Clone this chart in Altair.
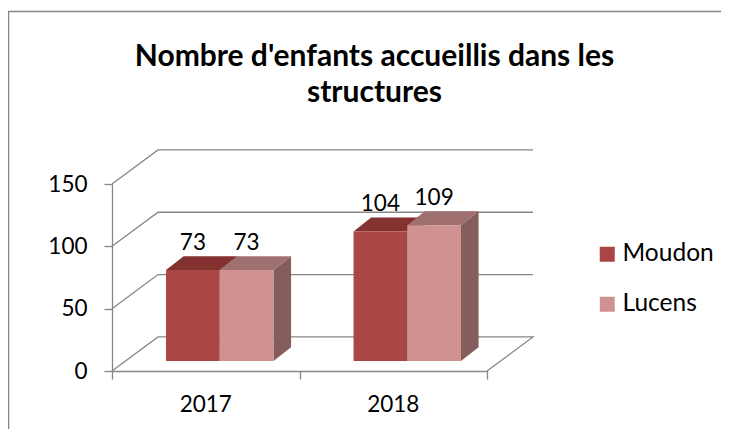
import altair as alt
import pandas as pd

# values
years = ["2017", "2018"]
series = ["Moudon", "Lucens"]
moudon = [73, 104]
lucens = [73, 109]
y_ticks = [0, 50, 100, 150]
title_lines = ["Nombre d'enfants accueillis dans les", "structures"]

front_colors = ["#AA4643", "#D09291"]
top_colors = ["#833230", "#A07070"]
side_colors = ["#855D5C", "#855D5C"]
GRID = "#868686"
FONT = "Lato"
TEXT = "#000000"

# 3D look, in data units of the two scales
WALL_DX, WALL_DY = 0.2453, 27.33       # floor depth
BAR_FRONT = 0.29                       # share of the floor in front of the bars
BAR_DX, BAR_DY = 0.094, 11.2           # depth of a bar
GAP, BAR_W = 0.217, 0.2865

values = {"Moudon": moudon, "Lucens": lucens}
rows = []
for si, s in enumerate(series):
    for yi, yr in enumerate(years):
        v = values[s][yi]
        x0 = yi + GAP + si * BAR_W + BAR_FRONT * WALL_DX
        x1 = x0 + BAR_W
        y0 = BAR_FRONT * WALL_DY
        rows.append(dict(series=s, si=si, year=yr, value=v, x0=x0, x1=x1, xm=(x0 + x1) / 2,
                         y0=y0, y1=v + y0))
bars = pd.DataFrame(rows)

tops, sides = [], []
for r in rows:
    for k in (0, 1):
        tops.append(dict(series=r["series"], year=r["year"], y=r["y1"] + k * BAR_DY,
                         xa=r["x0"] + k * BAR_DX, xb=r["x1"] + k * BAR_DX))
        sides.append(dict(series=r["series"], year=r["year"], x=r["x1"] + k * BAR_DX,
                          ya=r["y0"] + k * BAR_DY, yb=r["y1"] + k * BAR_DY))
tops = pd.DataFrame(tops)
sides = pd.DataFrame(sides)

grid_rows = []
for t in y_ticks:
    path = [(0, t), (WALL_DX, t + WALL_DY), (2 + WALL_DX, t + WALL_DY)]
    if t == 0:
        path += [(2, t)]
    for o, (px, py) in enumerate(path):
        grid_rows.append(dict(level=t, o=o, x=px, y=py))
grid = pd.DataFrame(grid_rows)

xs = alt.Scale(domain=[0, 2], nice=False, zero=False)
ys = alt.Scale(domain=[0, 150], nice=False, zero=False)

X_AXIS = alt.Axis(values=[0, 1, 2], labels=False, title=None, grid=False, domainColor=GRID,
                  tickColor=GRID, tickSize=8, domainWidth=1.3, tickWidth=1.3)
Y_AXIS = alt.Axis(values=y_ticks, title=None, grid=False, domainColor=GRID, tickColor=GRID,
                  tickSize=8, domainWidth=1.3, tickWidth=1.3, labelFont=FONT, labelFontSize=22.5,
                  labelColor=TEXT, labelPadding=17)

grid_layer = alt.Chart(grid).mark_line(color=GRID, strokeWidth=1.3).encode(
    x=alt.X("x:Q", scale=xs, axis=X_AXIS),
    y=alt.Y("y:Q", scale=ys, axis=Y_AXIS),
    detail="level:N",
    order="o:Q",
)

layers = [grid_layer]
for si, s in enumerate(series):
    layers.append(
        alt.Chart(sides[sides.series == s]).mark_area(orient="vertical", color=side_colors[si]).encode(
            x=alt.X("x:Q", scale=xs, axis=X_AXIS),
            y=alt.Y("ya:Q", scale=ys, axis=Y_AXIS),
            y2="yb:Q",
            detail="year:N",
        )
    )
    layers.append(
        alt.Chart(tops[tops.series == s]).mark_area(orient="horizontal", color=top_colors[si]).encode(
            y=alt.Y("y:Q", scale=ys, axis=Y_AXIS),
            x=alt.X("xa:Q", scale=xs, axis=X_AXIS),
            x2="xb:Q",
            detail="year:N",
        )
    )
    layers.append(
        alt.Chart(bars[bars.series == s]).mark_rect().encode(
            x=alt.X("x0:Q", scale=xs, axis=X_AXIS),
            x2="x1:Q",
            y=alt.Y("y0:Q", scale=ys, axis=Y_AXIS),
            y2="y1:Q",
            fill=alt.Fill(
                "series:N",
                scale=alt.Scale(domain=series, range=front_colors),
                legend=alt.Legend(
                    title=None, orient="none", legendX=483, legendY=58, symbolType="square",
                    symbolSize=225, symbolStrokeWidth=0, labelFont=FONT, labelFontSize=24.5,
                    labelColor=TEXT, rowPadding=25, labelOffset=3,
                ),
            ),
        )
    )

labels = alt.Chart(bars).mark_text(font=FONT, fontSize=22.5, color=TEXT, baseline="middle", yOffset=-27.5).encode(
    x=alt.X("xm:Q", scale=xs, axis=X_AXIS),
    y=alt.Y("y1:Q", scale=ys, axis=Y_AXIS),
    text="value:Q",
)
cats = pd.DataFrame({"year": years, "x": [0.5, 1.5]})
cat_labels = alt.Chart(cats).mark_text(font=FONT, fontSize=22.5, color=TEXT, baseline="middle").encode(
    x=alt.X("x:Q", scale=xs, axis=X_AXIS),
    y=alt.value(221),
    text="year:N",
)
frame = pd.DataFrame({"a": [0]})
frame_left = alt.Chart(frame).mark_rule(color=GRID, strokeWidth=1.5).encode(
    x=alt.value(-103.5), y=alt.value(-172.5), y2=alt.value(245))
frame_top = alt.Chart(frame).mark_rule(color=GRID, strokeWidth=1.5).encode(
    y=alt.value(-172.5), x=alt.value(-104), x2=alt.value(609))

chart = (
    alt.layer(*layers, labels, cat_labels, frame_left, frame_top)
    .properties(
        width=375,
        height=187,
        autosize=alt.AutoSizeParams(type="none"),
        padding={"left": 104, "top": 176, "right": 234, "bottom": 58},
        title=alt.TitleParams(
            text=title_lines, font=FONT, fontSize=30, fontWeight="bold", color=TEXT,
            anchor="middle", frame="group", dx=75, offset=-97.5, lineHeight=36,
        ),
        background="white",
    )
    .configure_view(strokeWidth=0)
)
chart.save("out.html", embed_options={"renderer": "svg", "actions": False})
